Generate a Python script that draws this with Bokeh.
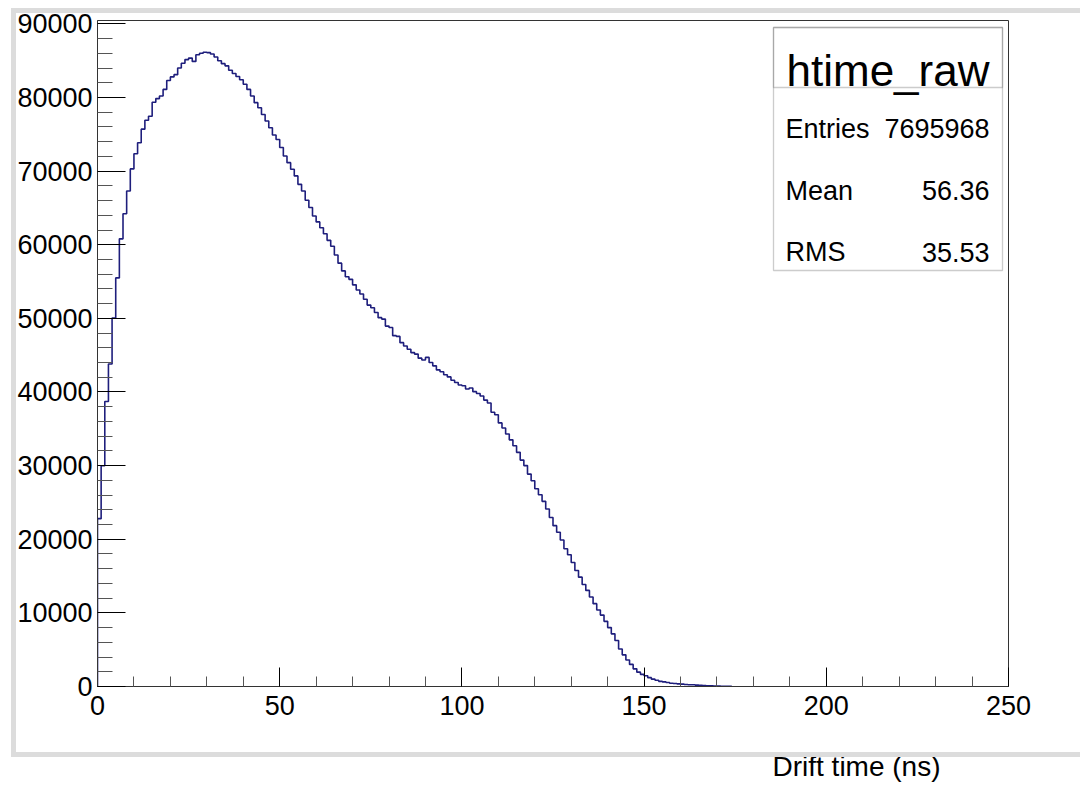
from bokeh.plotting import figure
from bokeh.models import (FixedTicker, BoxAnnotation, Label, Range1d, ColumnDataSource,
                          LinearAxis, Title, InlineStyleSheet)
from bokeh.embed import file_html
from bokeh.resources import INLINE

# ---- data (1 ns bins starting at 0 ns) ----
bin_width = 1.0
counts = [
    22800, 29990, 38700, 43800, 50050, 55500, 60800, 64200, 67300, 70300,
    72350, 73850, 75700, 76900, 77450, 79350, 79850, 80200, 81100, 82300,
    82800, 83100, 84000, 84650, 85150, 85350, 84900, 85800, 86000, 86150,
    86100, 85900, 85500, 85000, 84600, 84300, 83700, 83250, 82850, 82400,
    81800, 81100, 80200, 79300, 78600, 77700, 76800, 75900, 74900, 74300,
    73200, 72050, 71150, 70250, 69350, 68200, 67300, 66050, 65050, 63900,
    63100, 62300, 61500, 60600, 59800, 58600, 57500, 56450, 55650, 55300,
    54550, 53850, 53300, 52600, 51800, 51450, 50800, 50100, 49900, 48950,
    48750, 47650, 47550, 46700, 46250, 45800, 45350, 45150, 44600, 44350,
    44700, 44000, 43550, 43000, 42750, 42350, 42050, 41600, 41300, 40950,
    40850, 40400, 40550, 40050, 39800, 39450, 38900, 38500, 37250, 36900,
    35800, 35100, 34300, 33500, 32700, 31800, 30750, 30000, 28850, 27950,
    26850, 26050, 25150, 24100, 22950, 21850, 20950, 19900, 18700, 17900,
    16850, 15750, 14850, 13850, 13050, 12150, 11250, 10400, 9700, 8850,
    8000, 7150, 6250, 5100, 4300, 3600, 3000, 2400, 1950, 1650,
    1450, 1200, 1000, 850, 700, 630, 540, 450, 400, 360,
    320, 270, 230, 240, 180, 160, 140, 110, 90, 70,
    50, 40, 30, 20,
]
x_ticks = [0, 50, 100, 150, 200, 250]
x_minor = [v for v in range(0, 251, 10) if v % 50 != 0]
y_ticks = [0, 10000, 20000, 30000, 40000, 50000, 60000, 70000, 80000, 90000]
y_minor = [v for v in range(0, 90001, 2000) if v % 10000 != 0]
x_max = 250
stats_title = "htime_raw"
stats_names = ["Entries", "Mean", "RMS"]
stats_values = ["7695968", "56.36", "35.53"]
x_title = "Drift time (ns)"

# ---- step outline built from the bin contents ----
xs, ys = [0.0], [0.0]
for i, c in enumerate(counts):
    lo = i * bin_width
    hi = lo + bin_width
    xs += [lo, hi]
    ys += [c, c]
xs.append(len(counts) * bin_width)
ys.append(0)
src = ColumnDataSource(dict(x=xs, y=ys))

FONT = "Liberation Sans"

# light-gray canvas border drawn around the plot area (page decoration)
border_css = InlineStyleSheet(css="""
:host { position: relative; }
:host::after {
  content: "";
  position: absolute;
  left: 11px; top: 8px; width: 1069px; height: 749px;
  box-sizing: border-box;
  border-top: 5px solid #dcdcdc;
  border-left: 5px solid #dcdcdc;
  border-bottom: 5px solid #dcdcdc;
  pointer-events: none;
}
""")

p = figure(width=1080, height=786, output_backend="svg", toolbar_location=None,
           x_range=Range1d(0, x_max), y_range=Range1d(0, max(counts) * 1.05),
           min_border_left=97, min_border_right=72, min_border_top=20, min_border_bottom=100,
           background_fill_color="white", border_fill_color="white",
           stylesheets=[border_css])
p.grid.visible = False
p.outline_line_color = "#333333"
p.outline_line_width = 1

p.line("x", "y", source=src, line_color="#1e1e7c", line_width=1.6)

# axes
for ax, maj, mino, tin, min_in in ((p.xaxis[0], x_ticks, x_minor, 19, 10),
                                   (p.yaxis[0], y_ticks, y_minor, 28, 15)):
    ax.ticker = FixedTicker(ticks=maj, minor_ticks=mino)
    ax.major_tick_in = tin
    ax.major_tick_out = 0
    ax.minor_tick_in = min_in
    ax.minor_tick_out = 0
    ax.major_tick_line_color = "black"
    ax.minor_tick_line_color = "#555555"
    ax.axis_line_color = "#333333"
    ax.major_label_text_font = FONT
    ax.major_label_text_font_size = "27px"
    ax.major_label_text_color = "black"
p.yaxis[0].major_label_standoff = 5
p.xaxis[0].major_label_standoff = 9

# invisible spacer axis (one hidden tick, empty label) so that the x title
# sits below the gray canvas border
spacer = LinearAxis(ticker=FixedTicker(ticks=[x_max / 2]),
                    major_label_overrides={x_max / 2: ""},
                    axis_line_color=None, major_tick_line_color=None,
                    minor_tick_line_color=None,
                    major_tick_out=33, major_tick_in=0, minor_tick_out=0, minor_tick_in=0,
                    major_label_standoff=0, major_label_text_font_size="1px")
p.add_layout(spacer, "below")
p.add_layout(Title(text=x_title, align="left", offset=675, standoff=0,
                   vertical_align="top",
                   text_font=FONT, text_font_size="28px", text_font_style="normal",
                   text_color="black"), "below")

# stats box (screen units relative to the frame)
p.add_layout(BoxAnnotation(left=676, right=905, top=659, bottom=416,
                           left_units="screen", right_units="screen",
                           top_units="screen", bottom_units="screen",
                           fill_color="white", fill_alpha=1,
                           line_color="#555555", line_width=1.3))
p.add_layout(BoxAnnotation(left=676, right=905, top=659, bottom=599,
                           left_units="screen", right_units="screen",
                           top_units="screen", bottom_units="screen",
                           fill_alpha=0, line_color="#555555", line_width=1.3))
p.add_layout(Label(x=790.5, y=616, x_units="screen", y_units="screen", text=stats_title,
                   text_align="center", text_baseline="alphabetic",
                   text_font=FONT, text_font_size="44px", text_color="black"))
row_y = [557.7, 496, 434.3]
for name, val, yy in zip(stats_names, stats_values, row_y):
    p.add_layout(Label(x=688, y=yy, x_units="screen", y_units="screen", text=name,
                       text_align="left", text_baseline="alphabetic",
                       text_font=FONT, text_font_size="27px", text_color="black"))
    p.add_layout(Label(x=892, y=yy, x_units="screen", y_units="screen", text=val,
                       text_align="right", text_baseline="alphabetic",
                       text_font=FONT, text_font_size="27px", text_color="black"))

open("out.html", "w").write(file_html(p, INLINE))
